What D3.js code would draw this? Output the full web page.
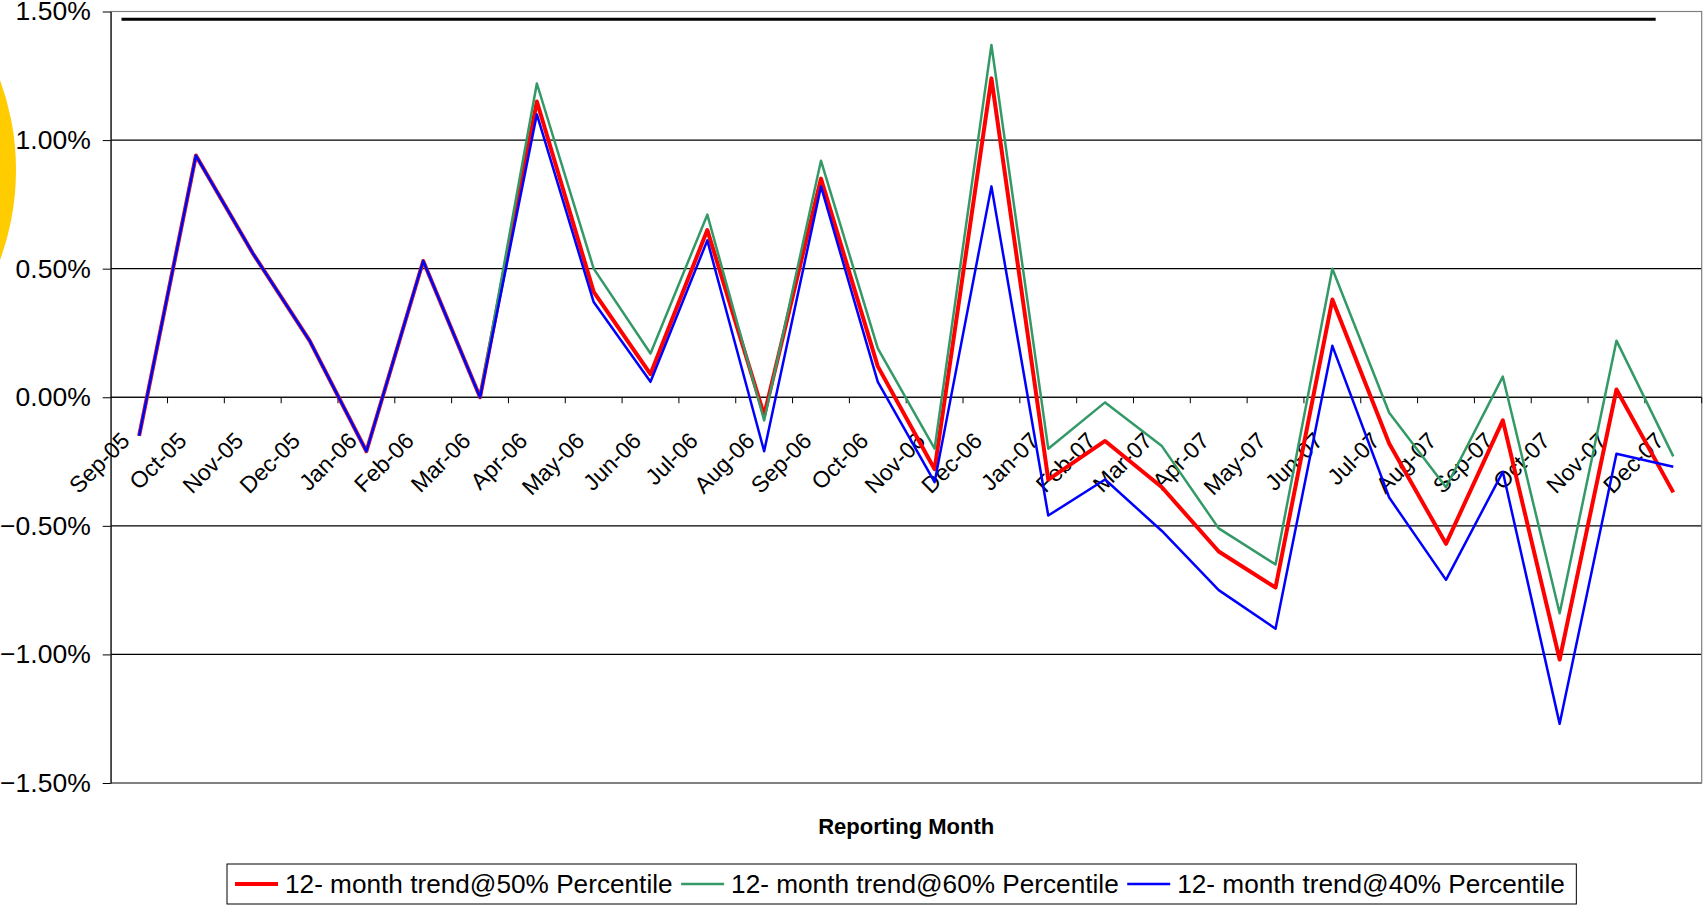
<!DOCTYPE html>
<html>
<head>
<meta charset="utf-8">
<script src="https://cdn.jsdelivr.net/npm/d3@7"></script>
<style>
    body { margin: 0; background: #fff; }
    svg { display: block; font-family: Arial, "Liberation Sans", sans-serif; }
</style>
</head>
<body>
<svg width="1704" height="905"></svg>
<script>
// Reporting months (x categories)
const months = ["Sep-05", "Oct-05", "Nov-05", "Dec-05", "Jan-06", "Feb-06", "Mar-06",
    "Apr-06", "May-06", "Jun-06", "Jul-06", "Aug-06", "Sep-06", "Oct-06", "Nov-06",
    "Dec-06", "Jan-07", "Feb-07", "Mar-07", "Apr-07", "May-07", "Jun-07", "Jul-07",
    "Aug-07", "Sep-07", "Oct-07", "Nov-07", "Dec-07"];

// Series values in percent
const trend50 = [-0.15, 0.94, 0.56, 0.22, -0.21, 0.53, 0.00, 1.15, 0.41, 0.09, 0.65, -0.07,
    0.85, 0.12, -0.28, 1.24, -0.32, -0.17, -0.35, -0.60, -0.74, 0.38, -0.18, -0.57,
    -0.09, -1.02, 0.03, -0.37];
const trend60 = [-0.15, 0.94, 0.56, 0.22, -0.21, 0.53, 0.00, 1.22, 0.50, 0.17, 0.71, -0.09,
    0.92, 0.19, -0.20, 1.37, -0.20, -0.02, -0.19, -0.51, -0.65, 0.50, -0.06, -0.35,
    0.08, -0.84, 0.22, -0.23];
const trend40 = [-0.15, 0.94, 0.56, 0.22, -0.21, 0.53, 0.00, 1.10, 0.37, 0.06, 0.61, -0.21,
    0.82, 0.06, -0.33, 0.82, -0.46, -0.32, -0.52, -0.75, -0.90, 0.20, -0.39, -0.71,
    -0.29, -1.27, -0.22, -0.27];

const seriesNames = ["12- month trend@50% Percentile", "12- month trend@60% Percentile",
    "12- month trend@40% Percentile"];

// Y axis tick values (percent)
const yTicks = [-1.5, -1.0, -0.5, 0.0, 0.5, 1.0, 1.5];

// Black reference line near the top of the plot
const referenceLevel = 1.47;

const width = 1704;
const height = 905;
const plot = { left: 110.7, right: 1701.7, top: 11.5, bottom: 783 };

const svg = d3.select("svg");

// Yellow shape cut off at the left edge
svg.append("circle")
    .attr("cx", -245)
    .attr("cy", 170)
    .attr("r", 261)
    .attr("fill", "#FFCC00");

// Scales
const xScale = d3.scaleBand()
    .domain(months)
    .range([plot.left, plot.right])
    .padding(0);
const bw = xScale.bandwidth();
const xMid = m => xScale(m) + bw / 2;

const yScale = d3.scaleLinear()
    .domain([-1.5, 1.5])
    .range([plot.bottom, plot.top]);

// Horizontal gridlines
svg.append("g")
    .selectAll("line")
    .data(yTicks)
    .enter()
    .append("line")
    .attr("x1", plot.left)
    .attr("x2", plot.right)
    .attr("y1", d => yScale(d))
    .attr("y2", d => yScale(d))
    .attr("stroke", "#000")
    .attr("stroke-width", 1.2);

// Plot area border
svg.append("rect")
    .attr("x", plot.left)
    .attr("y", plot.top)
    .attr("width", plot.right - plot.left)
    .attr("height", plot.bottom - plot.top)
    .attr("fill", "none")
    .attr("stroke", "#808080")
    .attr("stroke-width", 1.2);

// Y axis
const yAxis = svg.append("g")
    .attr("transform", `translate(${plot.left},0)`)
    .call(d3.axisLeft(yScale)
        .tickValues(yTicks)
        .tickSize(8)
        .tickSizeOuter(0)
        .tickPadding(12)
        .tickFormat(d => d3.format(".2f")(d) + "%"));
yAxis.selectAll("text")
    .attr("font-size", 26.5)
    .attr("font-family", "Arial, 'Liberation Sans', sans-serif")
    .attr("fill", "#000");
yAxis.selectAll("line, path").attr("stroke", "#000");

// X axis along the zero line, ticks between categories
const y0 = yScale(0);
svg.append("line")
    .attr("x1", plot.left)
    .attr("x2", plot.right)
    .attr("y1", y0)
    .attr("y2", y0)
    .attr("stroke", "#000");

svg.append("g")
    .selectAll("line")
    .data(months.slice(1).map(m => xScale(m)).concat([plot.right]))
    .enter()
    .append("line")
    .attr("x1", d => d)
    .attr("x2", d => d)
    .attr("y1", y0)
    .attr("y2", y0 + 6)
    .attr("stroke", "#000");

// Rotated month labels
svg.append("g")
    .selectAll("text")
    .data(months)
    .enter()
    .append("text")
    .attr("transform", d => `translate(${xMid(d) - 8},${y0 + 45}) rotate(-45)`)
    .attr("text-anchor", "end")
    .attr("font-size", 23)
    .attr("fill", "#000")
    .text(d => d);

// Reference line at the top
svg.append("line")
    .attr("x1", xMid(months[0]) - 0.31 * bw)
    .attr("x2", xMid(months[months.length - 1]) - 0.31 * bw)
    .attr("y1", yScale(referenceLevel))
    .attr("y2", yScale(referenceLevel))
    .attr("stroke", "#000")
    .attr("stroke-width", 3);

// Series lines
const series = [
    { name: seriesNames[0], values: trend50, color: "#FF0000", width: 4 },
    { name: seriesNames[1], values: trend60, color: "#339966", width: 2.5 },
    { name: seriesNames[2], values: trend40, color: "#0000FF", width: 2.5 }
];

const line = d3.line()
    .x((d, i) => xMid(months[i]))
    .y(d => yScale(d));

svg.append("g")
    .selectAll("path")
    .data(series)
    .enter()
    .append("path")
    .attr("d", d => line(d.values))
    .attr("fill", "none")
    .attr("stroke", d => d.color)
    .attr("stroke-width", d => d.width)
    .attr("stroke-linejoin", "round");

// X axis title
svg.append("text")
    .attr("x", (plot.left + plot.right) / 2)
    .attr("y", 834)
    .attr("text-anchor", "middle")
    .attr("font-size", 22)
    .attr("font-weight", "bold")
    .text("Reporting Month");

// Legend
const legend = svg.append("g");
const legendBox = legend.append("rect")
    .attr("fill", "#fff")
    .attr("stroke", "#000")
    .attr("stroke-width", 1);

let lx = 235;
const ly = 884;
series.forEach(s => {
    legend.append("line")
        .attr("x1", lx)
        .attr("x2", lx + 43)
        .attr("y1", ly)
        .attr("y2", ly)
        .attr("stroke", s.color)
        .attr("stroke-width", s.width);
    const t = legend.append("text")
        .attr("x", lx + 50)
        .attr("y", ly + 9)
        .attr("font-size", 26.2)
        .text(s.name);
    lx += 50 + t.node().getComputedTextLength() + 8.5;
});

legendBox
    .attr("x", 227)
    .attr("y", 864)
    .attr("width", lx - 227 + 3)
    .attr("height", 40);
</script>
</body>
</html>
